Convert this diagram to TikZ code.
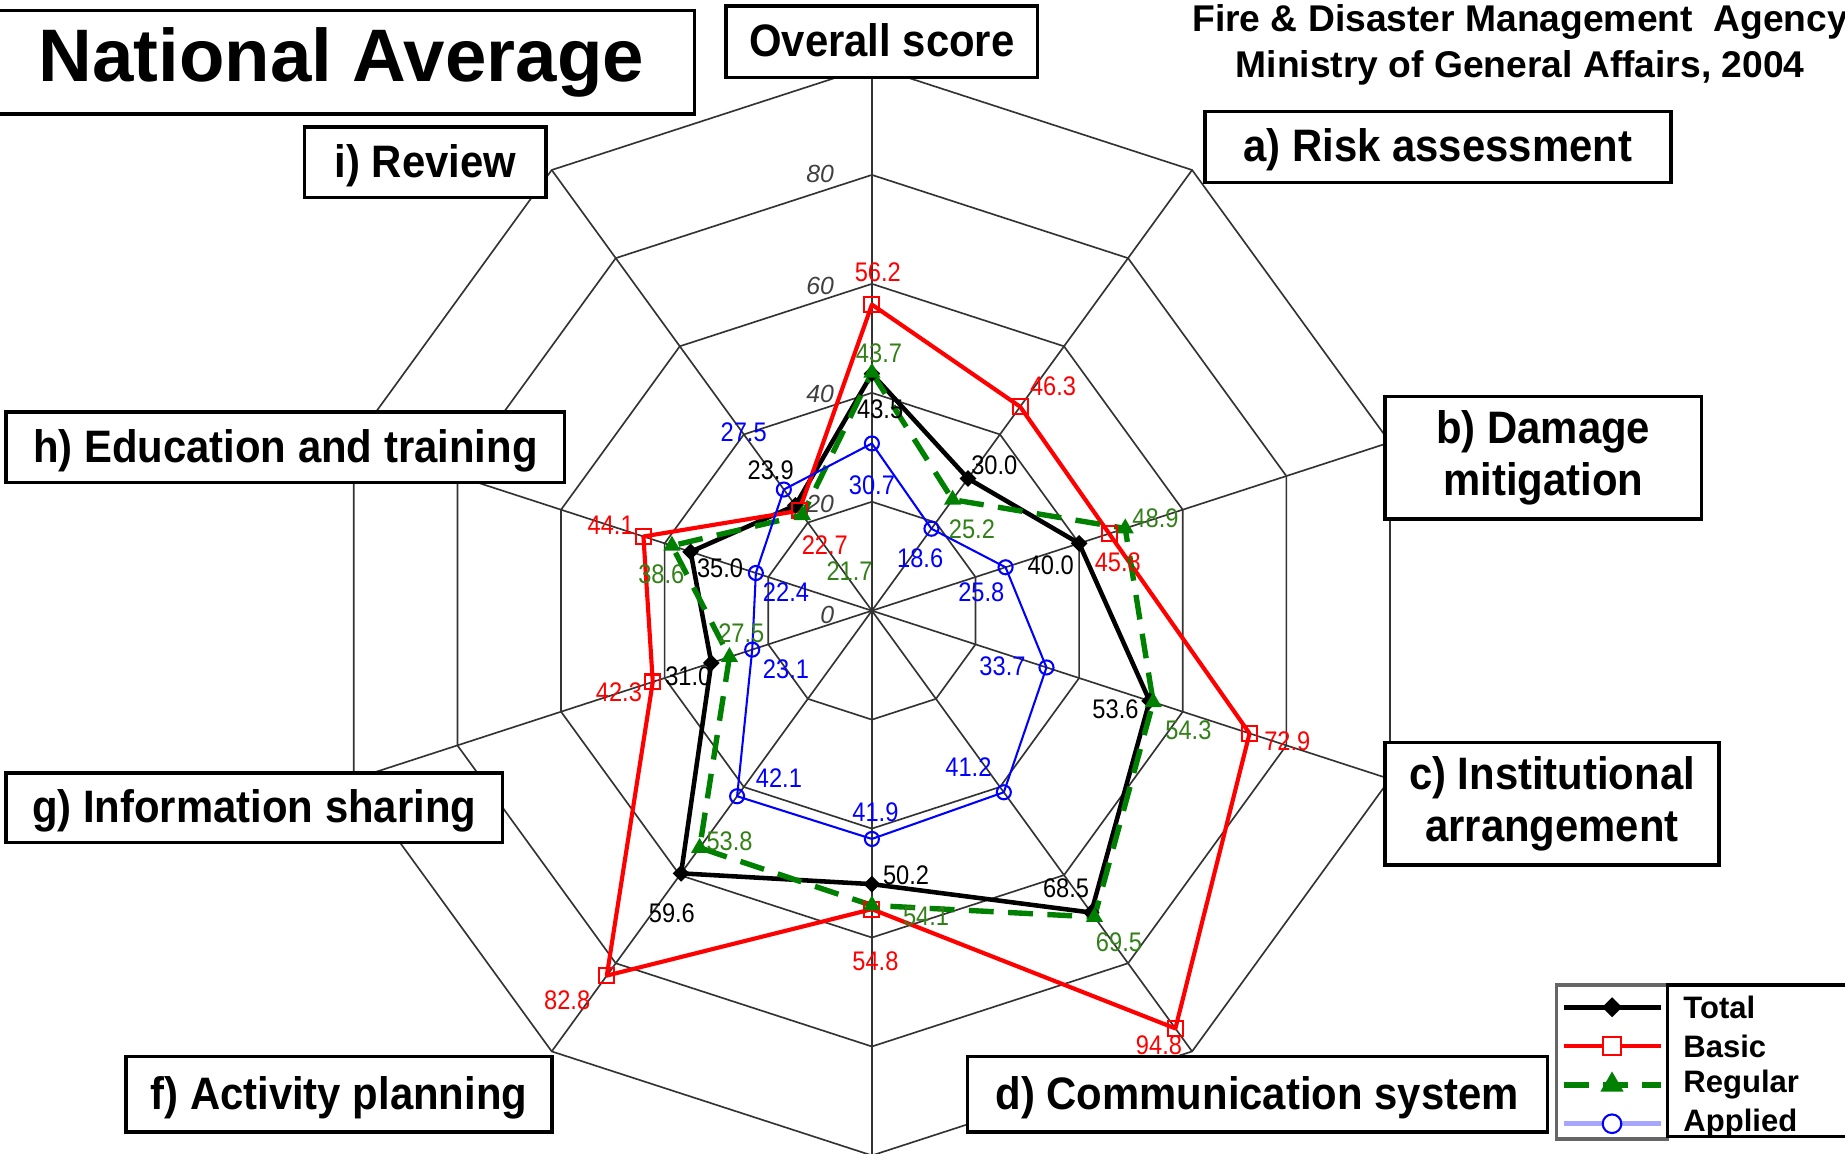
\documentclass[tikz,border=0pt]{standalone}
\usepackage{fontspec}
\setmainfont{Liberation Sans}
\newfontfamily\boxfont{Liberation Sans}[FakeStretch=0.92]
\newfontfamily\valfont{Liberation Sans}[FakeStretch=0.88]
\usetikzlibrary{shapes.geometric,backgrounds}
\definecolor{regcol}{rgb}{0,0.5,0}
\definecolor{reglbl}{rgb}{0.2,0.5,0.1}

\begin{document}
\begin{tikzpicture}
\tikzstyle{grid}=[black!80, line width=0.4pt]
\tikzstyle{cat}=[draw, fill=white, line width=0.8pt, inner sep=0pt, align=center, font=\boxfont\bfseries\fontsize{11}{12.5}\selectfont]
\tikzstyle{catone}=[cat, text height=0.9em, text depth=0.18em]
\tikzstyle{val}=[inner sep=0pt, font=\valfont\fontsize{6.5}{7}\selectfont]
\tikzstyle{tick}=[inner sep=0pt, black!75, font=\itshape\fontsize{6}{7}\selectfont]
\tikzstyle{totl}=[black, line width=1.1pt, line join=round]
\tikzstyle{basl}=[red, line width=1pt, line join=round]
\tikzstyle{regl}=[regcol, line width=1.3pt, dash pattern=on 6pt off 3.5pt]
\tikzstyle{appl}=[blue, line width=0.5pt]
\tikzstyle{totm}=[diamond, fill=black, inner sep=0pt, minimum size=4.2pt]
\tikzstyle{basm}=[rectangle, draw=red, line width=0.5pt, inner sep=0pt, minimum size=3.6pt]
\tikzstyle{regm}=[regular polygon, regular polygon sides=3, fill=regcol, inner sep=0pt, minimum size=4.8pt]
\tikzstyle{appm}=[circle, draw=blue, line width=0.5pt, inner sep=0pt, minimum size=3.4pt]
\useasboundingbox (-7.41,-4.61) rectangle (8.27,5.19);

% data points, one unit = one score point
\begin{scope}[scale=0.0463]
\coordinate (ctr) at (0,0);
\draw (90:43.5) node (tot0) [totm] {};
\draw (54:30.0) node (tot1) [totm] {};
\draw (18:40.0) node (tot2) [totm] {};
\draw (-18:53.6) node (tot3) [totm] {};
\draw (-54:68.5) node (tot4) [totm] {};
\draw (-90:50.2) node (tot5) [totm] {};
\draw (-126:59.6) node (tot6) [totm] {};
\draw (-162:31.0) node (tot7) [totm] {};
\draw (162:35.0) node (tot8) [totm] {};
\draw (126:23.9) node (tot9) [totm] {};
\draw (90:56.2) node (bas0) [basm] {};
\draw (54:46.3) node (bas1) [basm] {};
\draw (18:45.8) node (bas2) [basm] {};
\draw (-18:72.9) node (bas3) [basm] {};
\draw (-54:94.8) node (bas4) [basm] {};
\draw (-90:54.8) node (bas5) [basm] {};
\draw (-126:82.8) node (bas6) [basm] {};
\draw (-162:42.3) node (bas7) [basm] {};
\draw (162:44.1) node (bas8) [basm] {};
\draw (126:22.7) node (bas9) [basm] {};
\draw (90:43.7) node (reg0) [regm] {};
\draw (54:25.2) node (reg1) [regm] {};
\draw (18:48.9) node (reg2) [regm] {};
\draw (-18:54.3) node (reg3) [regm] {};
\draw (-54:69.5) node (reg4) [regm] {};
\draw (-90:54.1) node (reg5) [regm] {};
\draw (-126:53.8) node (reg6) [regm] {};
\draw (-162:27.5) node (reg7) [regm] {};
\draw (162:38.6) node (reg8) [regm] {};
\draw (126:21.7) node (reg9) [regm] {};
\draw (90:30.7) node (app0) [appm] {};
\draw (54:18.6) node (app1) [appm] {};
\draw (18:25.8) node (app2) [appm] {};
\draw (-18:33.7) node (app3) [appm] {};
\draw (-54:41.2) node (app4) [appm] {};
\draw (-90:41.9) node (app5) [appm] {};
\draw (-126:42.1) node (app6) [appm] {};
\draw (-162:23.1) node (app7) [appm] {};
\draw (162:22.4) node (app8) [appm] {};
\draw (126:27.5) node (app9) [appm] {};
\end{scope}

\begin{scope}[on background layer, scale=0.0463]
% rings 20..100
\draw[grid] (90:20) -- (54:20) -- (18:20) -- (-18:20) -- (-54:20) -- (-90:20) -- (-126:20) -- (-162:20) -- (162:20) -- (126:20) -- cycle;
\draw[grid] (90:40) -- (54:40) -- (18:40) -- (-18:40) -- (-54:40) -- (-90:40) -- (-126:40) -- (-162:40) -- (162:40) -- (126:40) -- cycle;
\draw[grid] (90:60) -- (54:60) -- (18:60) -- (-18:60) -- (-54:60) -- (-90:60) -- (-126:60) -- (-162:60) -- (162:60) -- (126:60) -- cycle;
\draw[grid] (90:80) -- (54:80) -- (18:80) -- (-18:80) -- (-54:80) -- (-90:80) -- (-126:80) -- (-162:80) -- (162:80) -- (126:80) -- cycle;
\draw[grid] (90:100) -- (54:100) -- (18:100) -- (-18:100) -- (-54:100) -- (-90:100) -- (-126:100) -- (-162:100) -- (162:100) -- (126:100) -- cycle;
% spokes
\draw[grid] (ctr) -- (90:100);
\draw[grid] (ctr) -- (54:100);
\draw[grid] (ctr) -- (18:100);
\draw[grid] (ctr) -- (-18:100);
\draw[grid] (ctr) -- (-54:100);
\draw[grid] (ctr) -- (-90:100);
\draw[grid] (ctr) -- (-126:100);
\draw[grid] (ctr) -- (-162:100);
\draw[grid] (ctr) -- (162:100);
\draw[grid] (ctr) -- (126:100);
% series
\draw[totl] (tot0.center) -- (tot1.center) -- (tot2.center) -- (tot3.center) -- (tot4.center) -- (tot5.center) -- (tot6.center) -- (tot7.center) -- (tot8.center) -- (tot9.center) -- cycle;
\draw[basl] (bas0.center) -- (bas1.center) -- (bas2.center) -- (bas3.center) -- (bas4.center) -- (bas5.center) -- (bas6.center) -- (bas7.center) -- (bas8.center) -- (bas9.center) -- cycle;
\draw[regl] (reg0.center) -- (reg1.center) -- (reg2.center) -- (reg3.center) -- (reg4.center) -- (reg5.center) -- (reg6.center) -- (reg7.center) -- (reg8.center) -- (reg9.center) -- cycle;
\draw[appl] (app0.center) -- (app1.center) -- (app2.center) -- (app3.center) -- (app4.center) -- (app5.center) -- (app6.center) -- (app7.center) -- (app8.center) -- (app9.center) -- cycle;
\end{scope}

% scale
\node (tk80) [tick] at (-0.44,3.71) {80};
\node (tk60) [tick] at (-0.44,2.76) {60};
\node (tk40) [tick] at (-0.44,1.84) {40};
\node (tk20) [tick] at (-0.44,0.91) {20};
\node (tk0) [tick] at (-0.38,-0.04) {0};

% values
\node (vb0) [val, red] at (0.05,2.88) {56.2};
\node (vr0) [val, reglbl] at (0.06,2.19) {43.7};
\node (vt0) [val] at (0.07,1.71) {43.5};
\node (va0) [val, blue] at (0.00,1.07) {30.7};
\node (vb1) [val, red] at (1.54,1.91) {46.3};
\node (vt1) [val] at (1.04,1.24) {30.0};
\node (vr1) [val, reglbl] at (0.85,0.69) {25.2};
\node (va1) [val, blue] at (0.41,0.45) {18.6};
\node (vr2) [val, reglbl] at (2.41,0.79) {48.9};
\node (vb2) [val, red] at (2.09,0.41) {45.8};
\node (vt2) [val] at (1.52,0.39) {40.0};
\node (va2) [val, blue] at (0.93,0.16) {25.8};
\node (vb3) [val, red] at (3.53,-1.11) {72.9};
\node (vr3) [val, reglbl] at (2.69,-1.02) {54.3};
\node (vt3) [val] at (2.07,-0.84) {53.6};
\node (va3) [val, blue] at (1.11,-0.47) {33.7};
\node (vb4) [val, red] at (2.44,-3.69) {94.8};
\node (vr4) [val, reglbl] at (2.10,-2.82) {69.5};
\node (vt4) [val] at (1.65,-2.36) {68.5};
\node (va4) [val, blue] at (0.82,-1.33) {41.2};
\node (vt5) [val] at (0.29,-2.25) {50.2};
\node (vr5) [val, reglbl] at (0.46,-2.60) {54.1};
\node (vb5) [val, red] at (0.03,-2.98) {54.8};
\node (va5) [val, blue] at (0.03,-1.71) {41.9};
\node (vb6) [val, red] at (-2.59,-3.31) {82.8};
\node (vt6) [val] at (-1.70,-2.57) {59.6};
\node (vr6) [val, reglbl] at (-1.21,-1.96) {53.8};
\node (va6) [val, blue] at (-0.79,-1.42) {42.1};
\node (vb7) [val, red] at (-2.15,-0.69) {42.3};
\node (vt7) [val] at (-1.56,-0.56) {31.0};
\node (vr7) [val, reglbl] at (-1.11,-0.19) {27.5};
\node (va7) [val, blue] at (-0.73,-0.50) {23.1};
\node (vb8) [val, red] at (-2.22,0.73) {44.1};
\node (vr8) [val, reglbl] at (-1.79,0.31) {38.6};
\node (vt8) [val] at (-1.29,0.36) {35.0};
\node (va8) [val, blue] at (-0.73,0.16) {22.4};
\node (va9) [val, blue] at (-1.09,1.52) {27.5};
\node (vt9) [val] at (-0.86,1.19) {23.9};
\node (vb9) [val, red] at (-0.40,0.56) {22.7};
\node (vr9) [val, reglbl] at (-0.19,0.34) {21.7};

% axis titles
\node (title) [draw, fill=white, line width=0.8pt, inner sep=0pt, minimum width=6cm, minimum height=0.88cm, font=\bfseries\fontsize{18}{20}\selectfont] at (-4.51,4.66) {National Average};
\node (agency) [align=center, inner sep=0pt, font=\bfseries\fontsize{9}{11}\selectfont] at (5.51,4.81) {Fire \& Disaster Management\ \ Agency\\Ministry of General Affairs, 2004};
\node (catO) [catone, minimum width=2.65cm, minimum height=0.61cm] at (0.085,4.835) {Overall score};
\node (catA) [catone, minimum width=3.96cm, minimum height=0.60cm] at (4.81,3.94) {a) Risk assessment};
\node (catB) [cat, minimum width=2.69cm, minimum height=1.04cm] at (5.705,1.30) {b) Damage\\mitigation};
\node (catC) [cat, minimum width=2.84cm, minimum height=1.04cm] at (5.78,-1.64) {c) Institutional\\arrangement};
\node (catD) [catone, minimum width=4.93cm, minimum height=0.64cm] at (3.275,-4.11) {d) Communication system};
\node (catF) [catone, minimum width=3.62cm, minimum height=0.64cm] at (-4.53,-4.11) {f) Activity planning};
\node (catG) [catone, minimum width=4.22cm, minimum height=0.59cm] at (-5.25,-1.675) {g) Information sharing};
\node (catH) [catone, minimum width=4.75cm, minimum height=0.60cm] at (-4.985,1.39) {h) Education and training};
\node (catI) [catone, minimum width=2.05cm, minimum height=0.60cm] at (-3.795,3.81) {i) Review};

% legend
\draw[black!60, line width=0.8pt, fill=white] (5.82,-3.18) rectangle (6.76,-4.49);
\draw[black, line width=0.8pt, fill=white] (6.76,-3.18) rectangle (8.34,-4.47);
\draw[totl] (5.88,-3.37) -- (6.71,-3.37);
\draw[basl] (5.88,-3.70) -- (6.71,-3.70);
\draw[regl] (5.88,-4.03) -- (6.71,-4.03);
\draw[blue!35, line width=1.3pt] (5.88,-4.36) -- (6.71,-4.36);
\draw (6.29,-3.37) node (lgt) [totm, minimum size=5pt] {};
\draw (6.29,-3.70) node (lgb) [basm, minimum size=4.5pt, fill=white] {};
\draw (6.29,-4.03) node (lgr) [regm, minimum size=6.5pt] {};
\draw (6.29,-4.36) node (lga) [appm, minimum size=4.5pt, fill=white] {};
\node (lgtt) [anchor=west, inner sep=0pt, font=\bfseries\fontsize{7.5}{9}\selectfont] at (6.89,-3.37) {Total};
\node (lgbt) [anchor=west, inner sep=0pt, font=\bfseries\fontsize{7.5}{9}\selectfont] at (6.89,-3.70) {Basic};
\node (lgrt) [anchor=west, inner sep=0pt, font=\bfseries\fontsize{7.5}{9}\selectfont] at (6.89,-4.03) {Regular};
\node (lgat) [anchor=west, inner sep=0pt, font=\bfseries\fontsize{7.5}{9}\selectfont] at (6.89,-4.36) {Applied};
\end{tikzpicture}
\end{document}
